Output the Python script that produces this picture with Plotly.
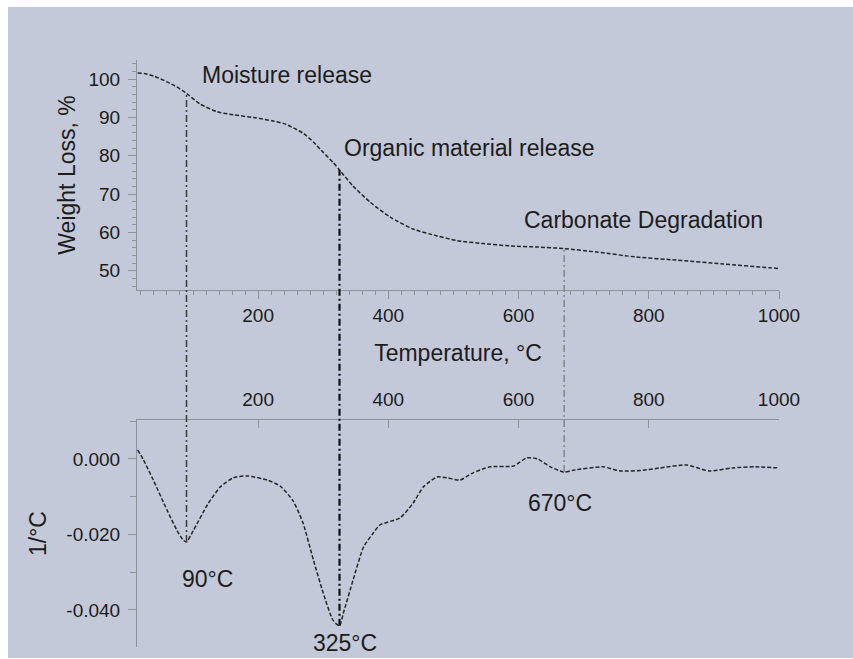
import numpy as np
import plotly.graph_objects as go

# ---------------- data ----------------
tg_temp = [15, 25, 40, 60, 75, 90, 111, 137, 162, 193, 223, 240, 254, 270, 285,
           300, 315, 325, 346, 372, 403, 438, 475, 505, 546, 587, 630, 670, 720,
           781, 843, 914, 986, 1000]
tg_weight = [101.6, 101.5, 100.8, 99.3, 98.0, 96.3, 93.5, 91.5, 90.7, 90.0, 89.1,
             88.4, 87.3, 85.8, 83.6, 80.9, 78.3, 76.3, 72.1, 67.9, 64.0, 60.9, 59.1,
             57.9, 57.1, 56.5, 56.2, 55.8, 54.9, 53.6, 52.8, 51.8, 50.8, 50.6]

dtg_temp = [15, 24, 39, 60, 75, 85, 90, 101, 122, 142, 162, 183, 214, 234, 254,
            269, 285, 300, 315, 325, 331, 346, 362, 377, 387, 418, 438, 454, 475,
            490, 510, 530, 556, 592, 613, 629, 649, 670, 684, 730, 756, 791, 817,
            858, 893, 928, 964, 1000]
dtg_value = [0.0024, -0.0003, -0.0056, -0.0135, -0.0188, -0.0215, -0.0220, -0.0188,
             -0.0122, -0.0074, -0.0050, -0.0045, -0.0056, -0.0072, -0.0112, -0.0170,
             -0.0268, -0.0355, -0.0427, -0.0442, -0.0408, -0.0320, -0.0233, -0.0196,
             -0.0175, -0.0156, -0.0117, -0.0074, -0.0048, -0.0050, -0.0056, -0.0037,
             -0.0021, -0.0019, 0.0003, 0.0000, -0.0021, -0.0035, -0.0030, -0.0021,
             -0.0032, -0.0030, -0.0024, -0.0016, -0.0032, -0.0024, -0.0021, -0.0024]

event_temps = [90, 325, 670]
event_labels = ["90°C", "325°C", "670°C"]
stage_labels = ["Moisture release", "Organic material release", "Carbonate Degradation"]

x_tickvals = [200, 400, 600, 800, 1000]
x_ticktext = ["200", "400", "600", "800", "1000"]
tg_tickvals = [50, 60, 70, 80, 90, 100]
dtg_tickvals = [0.0, -0.02, -0.04]
dtg_ticktext = ["0.000", "-0.020", "-0.040"]

# ---------------- layout constants ----------------
W, H = 853, 659
X_RANGE = [14, 1000]
TG_RANGE = [45, 105]
DTG_RANGE = [-0.0498, 0.0103]
X_DOMAIN = [137 / W, 779 / W]
TOP_DOMAIN = [1 - 290 / H, 1 - 60 / H]
BOT_DOMAIN = [1 - 647 / H, 1 - 420 / H]

PANEL = "#C3C9D9"
TXT = "#1c1c1c"
AX = "#8d929c"
FONT = "Liberation Sans, Arial, sans-serif"


def to_paper(v, rng, dom):
    return dom[0] + (v - rng[0]) / (rng[1] - rng[0]) * (dom[1] - dom[0])


fig = go.Figure()

fig.add_trace(go.Scatter(
    x=tg_temp, y=tg_weight, mode="lines", xaxis="x", yaxis="y",
    line=dict(color="#262626", width=1.5, dash="4px,2px", shape="spline", smoothing=0.6),
    showlegend=False, hoverinfo="skip"))

fig.add_trace(go.Scatter(
    x=dtg_temp, y=dtg_value, mode="lines", xaxis="x2", yaxis="y2",
    line=dict(color="#262626", width=1.5, dash="4px,2px", shape="spline", smoothing=0.6),
    showlegend=False, hoverinfo="skip"))

# background panel
fig.add_shape(type="rect", xref="paper", yref="paper", x0=8 / W, x1=1,
              y0=1 - 658 / H, y1=1 - 7 / H, fillcolor=PANEL, line=dict(width=0),
              layer="below")

# vertical event lines crossing both panels
ev_colors = ["#3a3a3a", "#111111", "#8a8a8a"]
ev_widths = [1.5, 2.2, 1.6]
for t, c, w in zip(event_temps, ev_colors, ev_widths):
    top_v = float(np.interp(t, tg_temp, tg_weight))
    bot_v = float(np.interp(t, dtg_temp, dtg_value))
    fig.add_shape(type="line", xref="x", yref="paper", x0=t, x1=t,
                  y0=to_paper(bot_v, DTG_RANGE, BOT_DOMAIN),
                  y1=to_paper(top_v, TG_RANGE, TOP_DOMAIN),
                  line=dict(color=c, width=w, dash="7px,3px,2px,3px"))

# stage annotations (top panel)
stage_pos = [(111, 101.0), (329, 82.1), (605, 63.2)]
for (tx, ty), lab in zip(stage_pos, stage_labels):
    fig.add_annotation(x=tx, y=ty, xref="x", yref="y", text=lab, showarrow=False,
                       xanchor="left", yanchor="middle",
                       font=dict(family=FONT, size=23, color=TXT))

# peak annotations (bottom panel)
peak_pos = [(123, -0.0318), (334, -0.0487), (664, -0.0117)]
for (tx, ty), lab in zip(peak_pos, event_labels):
    fig.add_annotation(x=tx, y=ty, xref="x2", yref="y2", text=lab, showarrow=False,
                       xanchor="center", yanchor="middle",
                       font=dict(family=FONT, size=23, color=TXT))

tickfont = dict(family=FONT, size=19, color=TXT)
titlefont = dict(family=FONT, size=23, color=TXT)

fig.update_layout(
    width=W, height=H,
    margin=dict(l=0, r=0, t=0, b=0),
    paper_bgcolor="white",
    plot_bgcolor="rgba(0,0,0,0)",
    showlegend=False,
    xaxis=dict(domain=X_DOMAIN, range=X_RANGE, anchor="y",
               tickvals=x_tickvals, ticktext=x_ticktext,
               showline=True, linecolor=AX, linewidth=1, showgrid=False, zeroline=False,
               ticks="outside", ticklen=8, tickcolor=AX, tickfont=tickfont,
               minor=dict(dtick=20, tick0=0, ticks="outside", ticklen=4, tickcolor=AX),
               title=dict(text="Temperature, °C", font=titlefont, standoff=20),
               automargin=False),
    yaxis=dict(domain=TOP_DOMAIN, range=TG_RANGE, anchor="x",
               tickvals=tg_tickvals,
               showline=True, linecolor=AX, linewidth=1, showgrid=False, zeroline=False,
               ticks="outside", ticklen=8, tickcolor=AX, tickfont=tickfont,
               ticklabelstandoff=4,
               minor=dict(dtick=2, tick0=0, ticks="outside", ticklen=4, tickcolor=AX),
               title=dict(text="Weight Loss, %", font=titlefont, standoff=6),
               automargin=False),
    xaxis2=dict(domain=X_DOMAIN, range=X_RANGE, anchor="y2", side="top",
                tickvals=x_tickvals, ticktext=x_ticktext,
                showline=True, linecolor=AX, linewidth=1, showgrid=False, zeroline=False,
                ticks="inside", ticklen=8, tickcolor=AX, tickfont=tickfont,
                ticklabelstandoff=5,
                automargin=False),
    yaxis2=dict(domain=BOT_DOMAIN, range=DTG_RANGE, anchor="x2",
                tickvals=dtg_tickvals, ticktext=dtg_ticktext,
                showline=True, linecolor=AX, linewidth=1, showgrid=False, zeroline=False,
                ticks="outside", ticklen=8, tickcolor=AX, tickfont=tickfont,
                ticklabelstandoff=4,
                minor=dict(dtick=0.01, tick0=0, ticks="outside", ticklen=6, tickcolor=AX),
                title=dict(text="1/°C", font=titlefont, standoff=13),
                automargin=False),
)

fig.write_html("out.html")
